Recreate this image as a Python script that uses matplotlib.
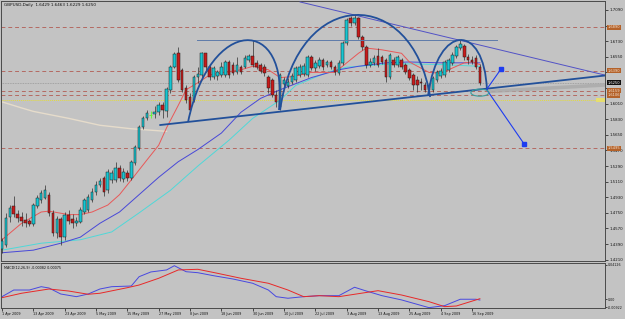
import matplotlib
matplotlib.use('Agg')
import matplotlib.pyplot as plt
import matplotlib.transforms as mtransforms
import numpy as np
from matplotlib.path import Path
from matplotlib.patches import PathPatch, Ellipse, Rectangle

# daily candles GBPUSD, 1 Apr 2009 .. 18 Sep 2009
opens = [1.433, 1.438, 1.470, 1.483, 1.474, 1.470, 1.467, 1.466, 1.462, 1.483,
         1.490, 1.492, 1.496, 1.475, 1.452, 1.468, 1.447, 1.473, 1.468, 1.463,
         1.464, 1.476, 1.478, 1.490, 1.499, 1.507, 1.515, 1.501, 1.513, 1.513,
         1.527, 1.514, 1.521, 1.515, 1.532, 1.550, 1.574, 1.584, 1.588, 1.589,
         1.591, 1.599, 1.592, 1.617, 1.643, 1.659, 1.640, 1.619, 1.609, 1.605,
         1.632, 1.634, 1.659, 1.643, 1.632, 1.633, 1.634, 1.634, 1.649, 1.646,
         1.637, 1.643, 1.643, 1.651, 1.656, 1.648, 1.646, 1.643, 1.632, 1.628,
         1.611, 1.597, 1.624, 1.621, 1.626, 1.628, 1.634, 1.635, 1.634, 1.655,
         1.642, 1.644, 1.651, 1.646, 1.649, 1.643, 1.636, 1.648, 1.671, 1.700,
         1.694, 1.700, 1.678, 1.666, 1.646, 1.648, 1.656, 1.655, 1.651, 1.632,
         1.651, 1.646, 1.651, 1.646, 1.640, 1.634, 1.628, 1.626, 1.622, 1.617,
         1.617, 1.628, 1.633, 1.634, 1.640, 1.648, 1.656, 1.665, 1.667, 1.655,
         1.651, 1.654, 1.6429]
highs = [1.446, 1.475, 1.484, 1.494, 1.478, 1.476, 1.475, 1.468, 1.486, 1.496,
         1.501, 1.507, 1.499, 1.478, 1.471, 1.470, 1.476, 1.478, 1.474, 1.470,
         1.482, 1.492, 1.497, 1.504, 1.512, 1.515, 1.518, 1.526, 1.524, 1.534,
         1.530, 1.527, 1.524, 1.536, 1.553, 1.576, 1.587, 1.594, 1.592, 1.598,
         1.603, 1.603, 1.620, 1.646, 1.661, 1.666, 1.642, 1.622, 1.613, 1.634,
         1.643, 1.661, 1.659, 1.646, 1.644, 1.640, 1.649, 1.651, 1.651, 1.649,
         1.655, 1.646, 1.657, 1.658, 1.674, 1.651, 1.648, 1.647, 1.634, 1.631,
         1.617, 1.636, 1.632, 1.631, 1.636, 1.644, 1.647, 1.648, 1.657, 1.657,
         1.651, 1.655, 1.654, 1.651, 1.651, 1.646, 1.651, 1.673, 1.700, 1.702,
         1.703, 1.701, 1.680, 1.669, 1.654, 1.657, 1.665, 1.657, 1.654, 1.659,
         1.655, 1.657, 1.654, 1.648, 1.642, 1.636, 1.633, 1.631, 1.626, 1.625,
         1.633, 1.640, 1.642, 1.651, 1.654, 1.661, 1.669, 1.674, 1.670, 1.658,
         1.656, 1.657, 1.6463]
lows = [1.429, 1.436, 1.464, 1.470, 1.464, 1.460, 1.459, 1.460, 1.460, 1.481,
        1.486, 1.491, 1.471, 1.448, 1.446, 1.438, 1.444, 1.462, 1.458, 1.460,
        1.463, 1.474, 1.476, 1.487, 1.496, 1.505, 1.494, 1.498, 1.509, 1.511,
        1.512, 1.511, 1.512, 1.513, 1.530, 1.548, 1.572, 1.582, 1.584, 1.584,
        1.588, 1.584, 1.586, 1.613, 1.642, 1.626, 1.614, 1.602, 1.590, 1.603,
        1.625, 1.631, 1.637, 1.628, 1.629, 1.628, 1.632, 1.632, 1.631, 1.634,
        1.635, 1.635, 1.642, 1.649, 1.643, 1.641, 1.636, 1.633, 1.613, 1.609,
        1.597, 1.594, 1.619, 1.619, 1.624, 1.626, 1.632, 1.633, 1.632, 1.640,
        1.639, 1.642, 1.640, 1.643, 1.641, 1.634, 1.634, 1.646, 1.669, 1.690,
        1.692, 1.676, 1.663, 1.642, 1.643, 1.646, 1.643, 1.647, 1.626, 1.629,
        1.643, 1.643, 1.641, 1.635, 1.628, 1.617, 1.614, 1.617, 1.614, 1.611,
        1.614, 1.626, 1.631, 1.632, 1.637, 1.646, 1.654, 1.663, 1.651, 1.647,
        1.647, 1.641, 1.6229]
closes = [1.443, 1.469, 1.481, 1.474, 1.469, 1.466, 1.463, 1.462, 1.484, 1.492,
          1.498, 1.501, 1.475, 1.452, 1.468, 1.447, 1.473, 1.466, 1.463, 1.466,
          1.478, 1.490, 1.493, 1.499, 1.507, 1.512, 1.499, 1.522, 1.521, 1.527,
          1.515, 1.522, 1.515, 1.534, 1.551, 1.574, 1.584, 1.590, 1.588, 1.591,
          1.599, 1.594, 1.618, 1.643, 1.658, 1.628, 1.617, 1.605, 1.594, 1.632,
          1.635, 1.659, 1.643, 1.632, 1.642, 1.637, 1.643, 1.649, 1.634, 1.636,
          1.646, 1.637, 1.654, 1.656, 1.646, 1.643, 1.639, 1.636, 1.619, 1.611,
          1.603, 1.634, 1.628, 1.626, 1.633, 1.642, 1.643, 1.644, 1.655, 1.642,
          1.648, 1.651, 1.643, 1.649, 1.643, 1.637, 1.648, 1.671, 1.697, 1.694,
          1.700, 1.678, 1.666, 1.646, 1.649, 1.654, 1.646, 1.649, 1.632, 1.657,
          1.646, 1.655, 1.643, 1.637, 1.631, 1.622, 1.622, 1.625, 1.617, 1.622,
          1.631, 1.637, 1.639, 1.649, 1.651, 1.657, 1.666, 1.670, 1.655, 1.651,
          1.649, 1.643, 1.6250]

# moving averages (bar index, price)
red_ma_bar = [0, 5, 10, 12, 17, 20, 23, 27, 30, 33, 37, 40, 42, 45, 47, 50, 53, 57, 61,
              64, 68, 71, 74, 79, 85, 88, 91, 93, 97, 102, 104, 109, 112, 115, 118, 120, 122]
red_ma_val = [1.444, 1.463, 1.476, 1.477, 1.473, 1.473, 1.476, 1.484, 1.496, 1.513, 1.536,
              1.553, 1.573, 1.599, 1.617, 1.625, 1.634, 1.637, 1.640, 1.644, 1.640, 1.631,
              1.632, 1.637, 1.637, 1.648, 1.659, 1.665, 1.663, 1.659, 1.649, 1.637, 1.636,
              1.642, 1.648, 1.649, 1.646]
blue_ma_bar = [0, 8, 15, 20, 25, 30, 35, 40, 45, 50, 56, 61, 66, 71, 79, 86, 91, 98, 104, 112, 122]
blue_ma_val = [1.429, 1.432, 1.440, 1.447, 1.463, 1.476, 1.496, 1.516, 1.534, 1.548, 1.567,
               1.591, 1.607, 1.617, 1.631, 1.640, 1.644, 1.648, 1.649, 1.648, 1.648]
cyan_ma_bar = [0, 10, 20, 28, 35, 43, 50, 58, 64, 71, 75, 83, 88, 97, 102, 112, 122]
cyan_ma_val = [1.432, 1.440, 1.444, 1.453, 1.475, 1.501, 1.529, 1.559, 1.584, 1.605, 1.622,
               1.637, 1.643, 1.646, 1.647, 1.646, 1.644]
beige_ma_bar = [0, 5, 8, 17, 25, 33, 42]
beige_ma_val = [1.603, 1.596, 1.592, 1.584, 1.576, 1.572, 1.569]

# MACD panel
macd_bar = [0, 3, 7, 10, 12, 15, 19, 22, 25, 28, 33, 35, 38, 42, 44, 45, 47, 50, 54, 59, 64,
            68, 70, 73, 77, 81, 86, 90, 93, 97, 102, 109, 113, 117, 121, 122]
macd_val = [0.0032, 0.0112, 0.0112, 0.0152, 0.0136, 0.0064, 0.0032, 0.0064, 0.0124, 0.0152,
            0.0160, 0.0272, 0.0329, 0.0353, 0.0404, 0.0380, 0.0332, 0.0320, 0.0284, 0.0244,
            0.0193, 0.0112, 0.0032, 0.0013, 0.0032, 0.0044, 0.0044, 0.0145, 0.0100, 0.0044,
            -0.0007, -0.0100, -0.0076, 0.0001, 0.0001, -0.00082]
signal_bar = [0, 5, 12, 17, 22, 25, 32, 35, 40, 45, 50, 55, 61, 68, 73, 77, 81, 86, 96, 102,
              109, 113, 116, 122]
signal_val = [0.0020, 0.0073, 0.0124, 0.0100, 0.0061, 0.0073, 0.0140, 0.0172, 0.0253, 0.0353,
              0.0361, 0.0313, 0.0253, 0.0193, 0.0112, 0.0032, 0.0044, 0.0032, 0.0104, 0.0052,
              -0.0028, -0.0088, -0.0080, 0.00075]

date_pos = [0, 8, 16, 24, 32, 40, 48, 56, 64, 72, 80, 88, 96, 104, 112, 120]
date_labels = ['1 Apr 2009', '13 Apr 2009', '23 Apr 2009', '5 May 2009', '15 May 2009',
               '27 May 2009', '8 Jun 2009', '18 Jun 2009', '30 Jun 2009', '10 Jul 2009',
               '22 Jul 2009', '3 Aug 2009', '13 Aug 2009', '25 Aug 2009', '4 Sep 2009',
               '16 Sep 2009']
price_ticks = [1.7090, 1.6910, 1.6730, 1.6550, 1.6370, 1.6190, 1.6010, 1.5830, 1.5650,
               1.5470, 1.5290, 1.5110, 1.4930, 1.4750, 1.4570, 1.4390, 1.4210]
# labels hidden behind the level boxes in the reference
price_tick_labels = ['1.7090', '', '1.6730', '1.6550', '', '', '1.6010', '1.5830', '1.5650',
                     '1.5470', '1.5290', '1.5110', '1.4930', '1.4750', '1.4570', '1.4390',
                     '1.4210']
macd_ticks = [0.04126, 0.0, -0.00922]
macd_tick_labels = ['0.04126', '0.00', '-0.00922']

dash_levels = [1.6890, 1.6390, 1.6159, 1.6106, 1.5495]
bid_level = 1.6250
yellow_level = 1.6052

# drawn objects (bar index, price)
neck_x, neck_y = [40.4, 154.0], [1.5763, 1.6334]
res_x, res_y = [76.1, 154.0], [1.7182, 1.6338]
top_x, top_y = [49.8, 126.4], [1.6744, 1.6744]
arc1 = [(47.5, 1.5798), (53.1, 1.7032), (73.5, 1.7032), (70.7, 1.5936)]
arc2 = [(71.0, 1.5936), (75.5, 1.7372), (104.8, 1.7372), (109.3, 1.6086)]
arc3 = [(108.8, 1.6109), (111.3, 1.6945), (123.1, 1.6945), (123.8, 1.6167)]
arrow_up_x, arrow_up_y = [123.8, 127.4], [1.6179, 1.6409]
arrow_dn_x, arrow_dn_y = [123.8, 133.3], [1.6167, 1.5544]
shadow_x, shadow_y = [124.0, 154.0], [1.6150, 1.6225]

BG = '#C3C3C3'
W, H = 625, 319

fig = plt.figure(figsize=(W / 100, H / 100), dpi=100)
fig.patch.set_facecolor(BG)
ax = fig.add_axes([1 / W, 58 / H, 604 / W, 260 / H])
mx = fig.add_axes([1 / W, 11 / H, 604 / W, 45 / H])

for a in (ax, mx):
    a.set_facecolor(BG)
    a.set_xlim(-0.255, 153.94)
    for s in a.spines.values():
        s.set_color('#4A4A4A')
        s.set_linewidth(0.7)
ax.set_ylim(1.4195, 1.7193)
mx.set_ylim(-0.01042, 0.04366)

# horizontal levels
for lv in dash_levels:
    ax.axhline(lv, color='#B46A62', lw=0.7, ls=(0, (4, 3)), zorder=1)
ax.axhline(bid_level, color='#979797', lw=0.6, ls=(0, (1, 1)), zorder=1)
ax.axhline(yellow_level, color='#E4DC3C', lw=0.7, ls=(0, (1, 1)), zorder=1)

# moving averages
ax.plot(beige_ma_bar, beige_ma_val, color='#E6DCCB', lw=1.0, zorder=2)
ax.plot(cyan_ma_bar, cyan_ma_val, color='#4FD8D8', lw=0.7, zorder=2)
ax.plot(blue_ma_bar, blue_ma_val, color='#4848D8', lw=0.7, zorder=2)
ax.plot(red_ma_bar, red_ma_val, color='#E85858', lw=0.7, zorder=2)

# candles
o = np.array(opens)
h = np.array(highs)
l = np.array(lows)
c = np.array(closes)
idx = np.arange(len(o))
up = c > o
dn = c < o
eq = c == o
ax.vlines(idx[~eq], l[~eq], h[~eq], color='#2E2E2E', lw=0.5, zorder=3)
ax.vlines(idx[eq], l[eq], h[eq], color='#5CFF2A', lw=0.6, zorder=3)
lo = np.minimum(o, c)
hh = np.abs(c - o)
ax.bar(idx[up], hh[up], bottom=lo[up], width=0.66, color='#16C6D2',
       edgecolor='#1C1C1C', lw=0.35, zorder=4)
ax.bar(idx[dn], hh[dn], bottom=lo[dn], width=0.66, color='#C81A1A',
       edgecolor='#1C1C1C', lw=0.35, zorder=4)
ax.hlines(o[eq], idx[eq] - 0.35, idx[eq] + 0.35, color='#5CFF2A', lw=0.6, zorder=4)

# trend lines, arcs, arrows
ax.plot(shadow_x, shadow_y, color='#ABABAB', lw=2.6, alpha=0.85, zorder=4.5,
        solid_capstyle='butt')
ax.plot(res_x, res_y, color='#5252C6', lw=0.7, zorder=5)
ax.plot(top_x, top_y, color='#5E7BAA', lw=0.7, zorder=5)
ax.plot(neck_x, neck_y, color='#22509A', lw=1.3, zorder=6)
codes = [Path.MOVETO, Path.CURVE4, Path.CURVE4, Path.CURVE4]
for arc in (arc1, arc2, arc3):
    ax.add_patch(PathPatch(Path(arc, codes), fill=False, ec='#22509A', lw=1.3, zorder=6))
ax.plot(arrow_up_x, arrow_up_y, color='#1E3CF0', lw=0.8, zorder=7)
ax.plot(arrow_up_x[-1:], arrow_up_y[-1:], 's', color='#1E3CF0', ms=2.6, zorder=7)
ax.plot(arrow_dn_x, arrow_dn_y, color='#1E3CF0', lw=0.8, zorder=7)
ax.plot(arrow_dn_x[-1:], arrow_dn_y[-1:], 's', color='#1E3CF0', ms=2.6, zorder=7)
ax.add_patch(Ellipse((122.0, 1.6136), 4.6, 0.0081, fill=False, ec='#3A9C9C', lw=0.8, zorder=7))

# price axis on the right
ax.set_xticks([])
ax.yaxis.tick_right()
ax.set_yticks(price_ticks)
ax.set_yticklabels(price_tick_labels)
ax.tick_params(axis='y', length=2, width=0.5, pad=1, labelsize=2.8, colors='#111111')

blend = mtransforms.blended_transform_factory(ax.transAxes, ax.transData)
box = dict(boxstyle='square,pad=0.15', fc='#B4622A', ec='#B4622A', lw=0)
for lv in dash_levels:
    ax.text(1.004, lv, f'{lv:.4f}', transform=blend, ha='left', va='center',
            fontsize=2.6, color='#F4E4D4', bbox=box, zorder=10)
ax.text(1.004, bid_level, f'{bid_level:.4f}', transform=blend, ha='left', va='center',
        fontsize=2.6, color='white',
        bbox=dict(boxstyle='square,pad=0.15', fc='#101010', ec='#101010', lw=0), zorder=10)
ax.add_patch(Rectangle((0.985, yellow_level - 0.0019), 0.015, 0.0038, transform=blend,
                       fc='#E6DE6E', ec='none', zorder=8))

# MACD
mx.plot(macd_bar, macd_val, color='#4848E0', lw=0.7)
mx.plot(signal_bar, signal_val, color='#E82828', lw=0.7)
mx.yaxis.tick_right()
mx.set_yticks(macd_ticks)
mx.set_yticklabels(macd_tick_labels)
mx.tick_params(axis='y', length=1.5, width=0.5, pad=0.8, labelsize=2.3, colors='#111111')
mx.set_xticks(date_pos)
mx.set_xticklabels(date_labels, ha='left')
mx.tick_params(axis='x', length=2, width=0.5, pad=1, labelsize=2.4, colors='#111111')

fig.text(4 / W, 1 - 5 / H, 'GBPUSD,Daily  1.6429 1.6463 1.6229 1.6250', fontsize=3.0,
         va='center', ha='left', color='#111111')
fig.text(4 / W, 1 - 268 / H, 'MACD(12,26,9) -0.00082 0.00075', fontsize=2.4,
         va='center', ha='left', color='#111111')

plt.savefig('out.png', dpi=100, facecolor=BG)
plt.close()
